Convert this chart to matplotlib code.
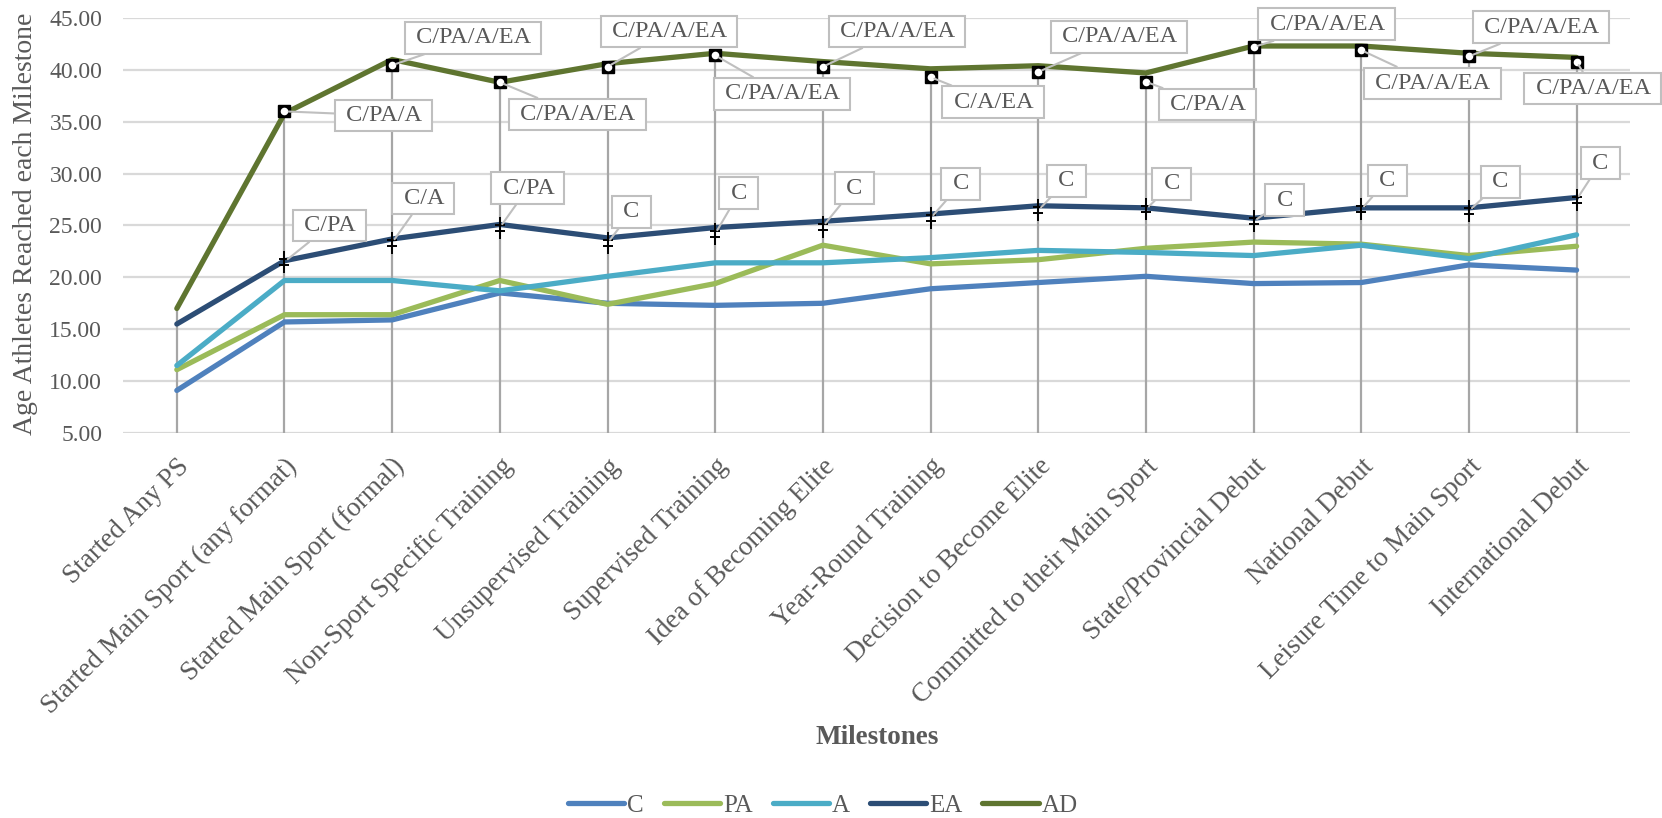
import matplotlib
matplotlib.use("Agg")
import matplotlib.pyplot as plt
import numpy as np
from matplotlib.path import Path

plt.rcParams['font.family'] = ['Liberation Serif', 'DejaVu Serif']

milestones = ["Started Any PS", "Started Main Sport (any format)", "Started Main Sport (formal)",
              "Non-Sport Specific Training", "Unsupervised Training", "Supervised Training",
              "Idea of Becoming Elite", "Year-Round Training", "Decision to Become Elite",
              "Committed to their Main Sport", "State/Provincial Debut", "National Debut",
              "Leisure Time to Main Sport", "International Debut"]

C = [9.1, 15.7, 15.9, 18.5, 17.5, 17.3, 17.5, 18.9, 19.5, 20.1, 19.4, 19.5, 21.2, 20.7]
PA = [11.1, 16.4, 16.4, 19.7, 17.4, 19.4, 23.1, 21.3, 21.7, 22.8, 23.4, 23.2, 22.1, 23.0]
A = [11.5, 19.7, 19.7, 18.7, 20.1, 21.4, 21.4, 21.9, 22.6, 22.4, 22.1, 23.1, 21.8, 24.1]
EA = [15.5, 21.6, 23.7, 25.1, 23.8, 24.8, 25.4, 26.1, 26.9, 26.7, 25.7, 26.7, 26.7, 27.7]
AD = [17.0, 35.8, 41.0, 38.8, 40.6, 41.6, 40.8, 40.1, 40.4, 39.7, 42.3, 42.3, 41.6, 41.2]

# significance marker series (no marker at first milestone)
EA_sig = [np.nan, 21.5, 23.35, 24.8, 23.3, 24.2, 24.9, 25.7, 26.45, 26.55, 25.4, 26.55, 26.4, 27.5]
AD_sig = [np.nan, 36.0, 40.45, 38.8, 40.3, 41.4, 40.3, 39.3, 39.8, 38.85, 42.2, 41.9, 41.3, 40.8]

EA_labels = ["", "C/PA", "C/A", "C/PA", "C", "C", "C", "C", "C", "C", "C", "C", "C", "C"]
AD_labels = ["", "C/PA/A", "C/PA/A/EA", "C/PA/A/EA", "C/PA/A/EA", "C/PA/A/EA", "C/PA/A/EA",
             "C/A/EA", "C/PA/A/EA", "C/PA/A", "C/PA/A/EA", "C/PA/A/EA", "C/PA/A/EA", "C/PA/A/EA"]

# callout offsets (category units, value units)
EA_off = [(0, 0), (0.42, 3.5), (0.29, 4.25), (0.26, 3.8), (0.22, 3.0), (0.22, 3.9), (0.29, 3.7),
          (0.28, 3.3), (0.26, 2.85), (0.24, 2.45), (0.29, 2.05), (0.24, 2.8), (0.29, 2.8), (0.22, 3.5)]
AD_off = [(0, 0), (0.92, -0.4), (0.75, 2.65), (0.72, -3.1), (0.57, 3.4), (0.62, -3.7), (0.69, 3.4),
          (0.58, -2.4), (0.75, 3.4), (0.57, -2.2), (0.68, 2.2), (0.66, -3.2), (0.67, 2.8), (0.15, -2.6)]

colors = {"C": "#4F81BD", "PA": "#9BBB59", "A": "#4BACC6", "EA": "#2C4D75", "AD": "#5F7530"}
txt = "#595959"

fig = plt.figure(figsize=(16.62, 8.18), dpi=100)
ax = fig.add_axes([0.074, 0.4707, 0.907, 0.5073])

x = np.arange(len(milestones))

ax.set_ylim(5, 45)
ax.set_xlim(-0.5, len(milestones) - 0.5)
ax.set_yticks(np.arange(5, 46, 5))
ax.set_yticklabels(["{:.2f}".format(v) for v in np.arange(5, 46, 5)])
ax.yaxis.grid(True, color="#D9D9D9", lw=1.6)
ax.set_axisbelow(True)
for s in ax.spines.values():
    s.set_visible(False)

# drop lines
ax.vlines(x, 5, AD, color="#A6A6A6", lw=1.6, zorder=1)

for name, vals in [("C", C), ("PA", PA), ("A", A), ("EA", EA), ("AD", AD)]:
    ax.plot(x, vals, color=colors[name], lw=3.8, label=name, zorder=3,
            solid_capstyle="round", solid_joinstyle="round")

# markers
dd = Path([(0, -1), (0, 1), (-0.45, 0.3), (0.45, 0.3), (-0.45, -0.3), (0.45, -0.3)],
          [Path.MOVETO, Path.LINETO, Path.MOVETO, Path.LINETO, Path.MOVETO, Path.LINETO])
ax.plot(x, EA_sig, ls="none", marker=dd, ms=16, mec="black", mew=1.4, zorder=5)
ax.plot(x, AD_sig, ls="none", marker="s", ms=9, mfc="black", mec="black", zorder=5)
ax.plot(x, AD_sig, ls="none", marker="o", ms=5.5, mfc="white", mec="white", mew=0, zorder=6)

box = dict(boxstyle="square,pad=0.22", fc="white", ec="#BFBFBF", lw=1.5)
arrow = dict(arrowstyle="-", color="#BFBFBF", lw=1.5, shrinkA=0, shrinkB=3)
for i in x:
    if EA_labels[i]:
        ax.annotate(" " + EA_labels[i] + " ", (i, EA_sig[i]),
                    xytext=(i + EA_off[i][0], EA_sig[i] + EA_off[i][1]),
                    ha="center", va="center", fontsize=17.5, color=txt, bbox=box,
                    arrowprops=arrow, zorder=7, annotation_clip=False)
    if AD_labels[i]:
        ax.annotate(" " + AD_labels[i] + " ", (i, AD_sig[i]),
                    xytext=(i + AD_off[i][0], AD_sig[i] + AD_off[i][1]),
                    ha="center", va="center", fontsize=17.5, color=txt, bbox=box,
                    arrowprops=arrow, zorder=7, annotation_clip=False)

ax.set_xticks(x)
ax.set_xticklabels(milestones, rotation=45, ha="right", va="top", rotation_mode="anchor")
ax.tick_params(axis="x", length=0, pad=15, labelsize=19.5, labelcolor=txt)
ax.tick_params(axis="y", length=0, pad=15, labelsize=17, labelcolor=txt)

ax.set_ylabel("Age Athletes Reached each Milestone", fontsize=20, color=txt, va="center")
ax.yaxis.set_label_coords(-0.065, 0.505)

fig.text(877 / 1662, 1 - 738 / 818, "Milestones", ha="center", va="center",
         fontsize=19.5, weight="bold", color=txt)

fig.legend(loc="center", bbox_to_anchor=(0.495, 0.015), ncol=5, frameon=False,
           fontsize=18, labelcolor=txt, handlelength=2.25, handletextpad=0.12,
           columnspacing=0.8)

fig.savefig("out.png", dpi=100)
